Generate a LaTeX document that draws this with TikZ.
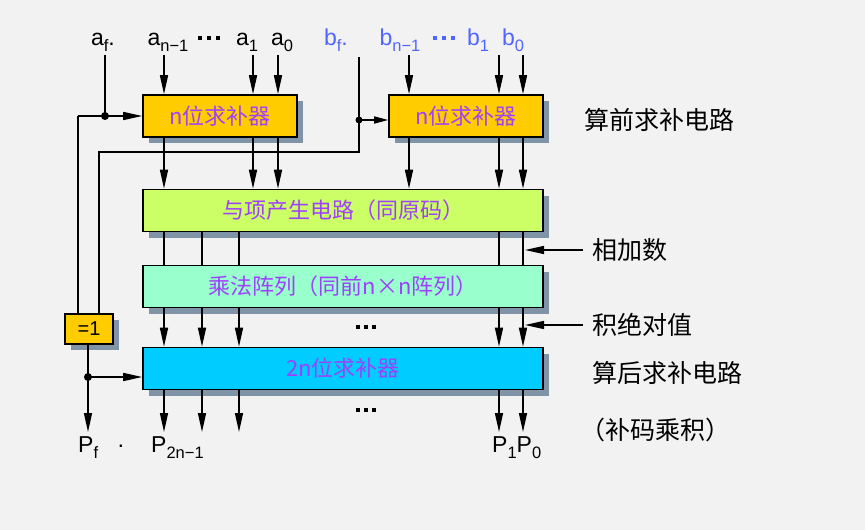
\documentclass[tikz,border=0pt]{standalone}
\usepackage{fontspec}
\setmainfont{Liberation Sans}
\newfontfamily\cjk{Noto Sans CJK SC}
\usetikzlibrary{arrows.meta,shadows,calc}
\definecolor{bg}{RGB}{242,242,242}
\definecolor{shadowc}{RGB}{128,148,168}
\definecolor{yel}{RGB}{255,204,0}
\definecolor{grn}{RGB}{204,255,102}
\definecolor{mint}{RGB}{153,255,204}
\definecolor{cyanb}{RGB}{0,204,255}
\definecolor{purp}{RGB}{160,64,255}
\definecolor{blab}{RGB}{80,100,255}
\newcommand\subt[1]{\raisebox{-6pt}{\fontsize{16.5}{16.5}\selectfont #1}}
\begin{document}
\begin{tikzpicture}[x=1pt,y=-1pt,
  box/.style={draw=black, line width=1.6pt, inner sep=0pt,
    drop shadow={shadow xshift=6pt,shadow yshift=-6pt,fill=shadowc,opacity=1},
    font=\cjk\fontsize{22}{22}\selectfont, text=purp},
  wire/.style={line width=1.5pt},
  arr/.style={wire,-{Triangle[length=19pt,width=8pt]}},
  sarr/.style={wire,-{Triangle[length=14pt,width=7pt]}},
  lab/.style={anchor=base, inner sep=0pt, font=\fontsize{23}{23}\selectfont},
  rlab/.style={anchor=west, inner sep=0pt, font=\cjk\fontsize{25}{25}\selectfont},
  dotc/.style={fill=black}]
\fill[bg] (0,0) rectangle (865,530);
\useasboundingbox (0,0) rectangle (865,530);

% boxes
\node[box, fill=yel, minimum width=154pt, minimum height=42pt] (c1) at (220,116) {n位求补器};
\node[box, fill=yel, minimum width=154pt, minimum height=42pt] (c2) at (466,116) {n位求补器};
\node[box, fill=grn, minimum width=400pt, minimum height=42pt] (g) at (343,210.5) {与项产生电路（同原码）};
\node[box, fill=mint, minimum width=400pt, minimum height=42pt] (m) at (343,286.5) {乘法阵列（同前n×n阵列）};
\node[box, fill=cyanb, minimum width=400pt, minimum height=42pt] (p) at (343,368.5) {2n位求补器};
\node[box, fill=yel, minimum width=48pt, minimum height=30pt, text=black, font=\fontsize{20}{20}\selectfont] (x1) at (89,329) {=1};

% top labels
\node[lab] (laf) at (103,45) {a\subt{f}.};
\node[lab] (lan) at (168,45) {a\subt{n−1}};
\node[lab] (la1) at (247,45) {a\subt{1}};
\node[lab] (la0) at (282,45) {a\subt{0}};
\node[lab, text=blab] (lbf) at (336,45) {b\subt{f}.};
\node[lab, text=blab] (lbn) at (400,45) {b\subt{n−1}};
\node[lab, text=blab] (lb1) at (478,45) {b\subt{1}};
\node[lab, text=blab] (lb0) at (513,45) {b\subt{0}};
\foreach \x in {200,209,218}{\fill[dotc] (\x-2,36) rectangle (\x+2,40);}
\foreach \x in {435,444,453}{\fill[blab] (\x-2,36) rectangle (\x+2,40);}

% bottom labels
\node[lab, anchor=base west] (lpf) at (78,452) {P\subt{f}};
\node[lab] (ldot) at (121,452) {·};
\node[lab, anchor=base west] (lp2) at (151,452) {P\subt{2n−1}};
\node[lab, anchor=base west] (lp10) at (492,452) {P\subt{1}P\subt{0}};

% right labels
\node[rlab] (r1) at (584,120) {算前求补电路};
\node[rlab] (r2) at (592,250) {相加数};
\node[rlab] (r3) at (592,325) {积绝对值};
\node[rlab] (r4) at (592,373) {算后求补电路};
\node[rlab] (r5) at (580,430) {（补码乘积）};

% middle dots
\foreach \y in {327,410}{\foreach \x in {358,366,374}{\fill[dotc] (\x-2,\y-2) rectangle (\x+2,\y+2);}}

% coordinates
\coordinate (ja) at (105,116);
\coordinate (jaTop) at (105,55);
\coordinate (ca) at (78,116);
\coordinate (jb) at (359,120);
\coordinate (jbTop) at (359,57);
\coordinate (cb) at (359,152);
\coordinate (cb2) at (99,152);
\coordinate (jp) at (88,377);
\coordinate (pEnd) at (88,432);
\coordinate (tA) at (164,55);
\coordinate (tA1) at (253,55);
\coordinate (tA0) at (278,55);
\coordinate (tB) at (409,55);
\coordinate (tB1) at (499,55);
\coordinate (tB0) at (523,55);
\coordinate (cB) at (202,0);
\coordinate (cC) at (239,0);
\coordinate (bot) at (0,432);

% input arrows
\foreach \c in {tA,tA1,tA0}{\draw[arr] (\c) -- (c1.north -| \c);}
\foreach \c in {tB,tB1,tB0}{\draw[arr] (\c) -- (c2.north -| \c);}

% sign paths
\draw[wire] (jaTop) -- (ja);
\draw[arr] (ca) -- (c1.west |- ca);
\draw[wire] (ca) -- (x1.north -| ca);
\fill (ja) circle (4pt);
\draw[wire] (jbTop) -- (cb) -- (cb2) -- (x1.north -| cb2);
\draw[sarr] (jb) -- (c2.west |- jb);
\fill (jb) circle (3.5pt);
\draw[wire] (x1.south -| jp) -- (jp);
\draw[arr] (jp) -- (pEnd);
\draw[arr] (jp) -- (p.west |- jp);
\fill (jp) circle (4pt);

% c -> g
\foreach \c in {tA,tA1,tA0}{\draw[arr] (c1.south -| \c) -- (g.north -| \c);}
\foreach \c in {tB,tB1,tB0}{\draw[arr] (c2.south -| \c) -- (g.north -| \c);}
% g -> m
\foreach \c in {tA,cB,cC,tB1,tB0}{\draw[wire] (g.south -| \c) -- (m.north -| \c);}
% m -> p
\foreach \c in {tA,cB,cC,tB1,tB0}{\draw[arr] (m.south -| \c) -- (p.north -| \c);}
% p -> out
\foreach \c in {tA,cB,cC,tB1,tB0}{\draw[arr] (p.south -| \c) -- (bot -| \c);}

% side arrows
\draw[arr] ($(r2.west)+(-9,0)$) -- (r2.west -| 525,0);
\draw[arr] ($(r3.west)+(-9,0)$) -- (r3.west -| 525,0);
\end{tikzpicture}
\end{document}
